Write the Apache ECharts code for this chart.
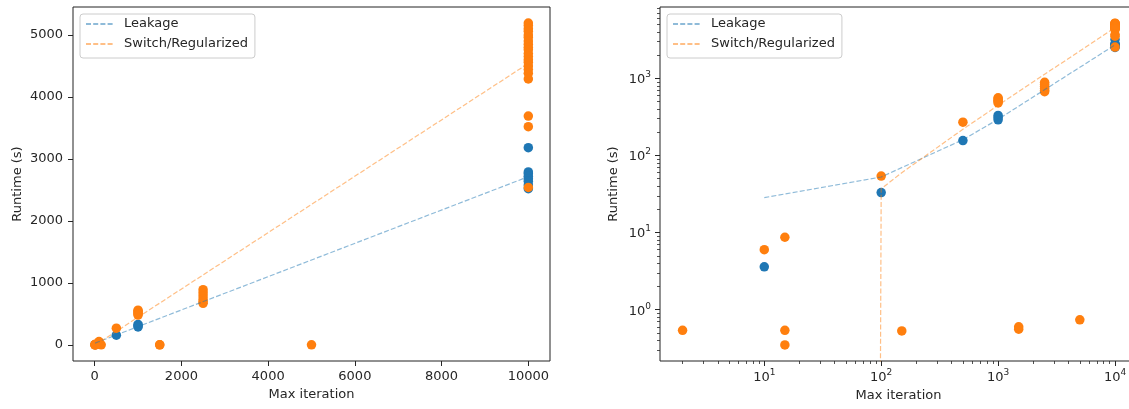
<!DOCTYPE html>
<html>
<head>
<meta charset="utf-8">
<script src="https://cdn.jsdelivr.net/npm/echarts@6/dist/echarts.min.js"></script>
<style>
  html, body { margin: 0; padding: 0; background: #ffffff; }
  #chart { width: 1129px; height: 409px; }
</style>
</head>
<body>
<div id="chart"></div>
<script>
// Runtime of each run against its iteration cap
const leakageIter = [10, 100, 500, 1000, 1000, 1000,
  10000, 10000, 10000, 10000, 10000, 10000, 10000, 10000];
const leakageRuntime = [3.6, 33, 156, 330, 310, 290,
  3180, 2790, 2760, 2720, 2680, 2640, 2580, 2520];

const switchIter = [2, 10, 15, 15, 15, 100, 150, 500,
  1000, 1000, 1000, 1000, 1000, 1500, 1500,
  2500, 2500, 2500, 2500, 2500, 2500, 5000,
  10000, 10000, 10000, 10000, 10000, 10000, 10000,
  10000, 10000, 10000, 10000, 10000, 10000, 10000,
  10000, 10000, 10000, 10000, 10000, 10000, 10000];
const switchRuntime = [0.54, 6.0, 8.7, 0.54, 0.35, 54, 0.53, 270,
  560, 540, 520, 500, 480, 0.56, 0.60,
  890, 840, 790, 740, 700, 670, 0.74,
  5190, 5150, 5100, 5060, 5000, 4960, 4900,
  4850, 4800, 4760, 4700, 4650, 4600, 4560,
  4500, 4440, 4380, 4290, 3690, 3520, 2540];

// Linear trend fits: [slope, intercept]
const leakageFit = [0.2687, 25.7];
const switchFit = [0.4548, -8.5];

// Axis ticks
const linearXTicks = [0, 2000, 4000, 6000, 8000, 10000];
const linearYTicks = [0, 1000, 2000, 3000, 4000, 5000];
const logXTicks = [10, 100, 1000, 10000];
const logYTicks = [1, 10, 100, 1000];

const FONT = 'DejaVu Sans';
const INK = '#262626';
const BLUE = '#1f77b4';
const ORANGE = '#ff7f0e';

// Axis limits (5% padding around the data, in linear or log space)
const LIN_X = [-500, 10500];
const LIN_Y = [-260, 5450];
const LOG_X = [Math.pow(10, 0.108), Math.pow(10, 4.188)];
const LOG_Y = [Math.pow(10, -0.665), Math.pow(10, 3.925)];

function pairs(xs, ys) { return xs.map((x, i) => [x, ys[i]]); }
function uniqueSorted(arr) { return Array.from(new Set(arr)).sort((a, b) => a - b); }
function fitLine(xs, fit) { return uniqueSorted(xs).map(x => [x, fit[0] * x + fit[1]]); }
// Nonpositive fit values are pushed to a tiny positive number on log axes,
// so that the segment drops off the bottom edge instead of breaking.
function clipPositive(points) { return points.map(([x, y]) => [x, y > 0 ? y : 1e-300]); }

function minorLogTicks(range) {
  const out = [];
  for (let e = -2; e <= 5; e++) {
    for (let m = 2; m <= 9; m++) {
      const v = m * Math.pow(10, e);
      if (v > range[0] && v < range[1]) out.push(v);
    }
  }
  return out;
}

function supLabel(v) {
  const e = Math.round(Math.log10(v));
  return '{b|10}{s|' + e + '}';
}
const supRich = {
  b: { fontFamily: FONT, fontSize: 13, color: INK, lineHeight: 16, verticalAlign: 'bottom' },
  s: { fontFamily: FONT, fontSize: 9, color: INK, lineHeight: 9, verticalAlign: 'top' }
};
function plainLabel(v) { return String(v); }

const tickStyle = { color: INK, width: 1 };
const labelBase = { fontFamily: FONT, fontSize: 13, color: INK };
const nameBase = { fontFamily: FONT, fontSize: 13, color: INK };
const noLine = { show: false, onZero: false };

const xAxes = [
  { // linear panel
    type: 'value', gridIndex: 0, position: 'bottom',
    min: LIN_X[0], max: LIN_X[1],
    name: 'Max iteration', nameLocation: 'middle', nameGap: 27, nameTextStyle: nameBase,
    axisLine: noLine, splitLine: { show: false },
    axisTick: { show: true, length: 5, lineStyle: tickStyle, customValues: linearXTicks },
    axisLabel: Object.assign({ margin: 9, customValues: linearXTicks, formatter: plainLabel }, labelBase)
  },
  { // log panel, decades
    type: 'log', logBase: 10, gridIndex: 1, position: 'bottom',
    min: LOG_X[0], max: LOG_X[1],
    name: 'Max iteration', nameLocation: 'middle', nameGap: 27, nameTextStyle: nameBase,
    axisLine: noLine, splitLine: { show: false },
    axisTick: { show: true, length: 5, lineStyle: tickStyle, customValues: logXTicks },
    axisLabel: { margin: 7, customValues: logXTicks, formatter: supLabel, rich: supRich }
  },
  { // log panel, minor ticks
    type: 'log', logBase: 10, gridIndex: 1, position: 'bottom',
    min: LOG_X[0], max: LOG_X[1],
    axisLine: noLine, splitLine: { show: false },
    axisTick: { show: true, length: 3, lineStyle: { color: INK, width: 0.8 }, customValues: minorLogTicks(LOG_X) },
    axisLabel: { show: false }
  }
];

const yAxes = [
  {
    type: 'value', gridIndex: 0, position: 'left',
    min: LIN_Y[0], max: LIN_Y[1],
    name: 'Runtime (s)', nameLocation: 'middle', nameGap: 49, nameRotate: 90, nameTextStyle: nameBase,
    axisLine: noLine, splitLine: { show: false },
    axisTick: { show: true, length: 5, lineStyle: tickStyle, customValues: linearYTicks },
    axisLabel: Object.assign({ margin: 10, customValues: linearYTicks, formatter: plainLabel }, labelBase)
  },
  {
    type: 'log', logBase: 10, gridIndex: 1, position: 'left',
    min: LOG_Y[0], max: LOG_Y[1],
    name: 'Runtime (s)', nameLocation: 'middle', nameGap: 40, nameRotate: 90, nameTextStyle: nameBase,
    axisLine: noLine, splitLine: { show: false },
    axisTick: { show: true, length: 5, lineStyle: tickStyle, customValues: logYTicks },
    axisLabel: { margin: 9, customValues: logYTicks, formatter: supLabel, rich: supRich }
  },
  {
    type: 'log', logBase: 10, gridIndex: 1, position: 'left',
    min: LOG_Y[0], max: LOG_Y[1],
    axisLine: noLine, splitLine: { show: false },
    axisTick: { show: true, length: 3, lineStyle: { color: INK, width: 0.8 }, customValues: minorLogTicks(LOG_Y) },
    axisLabel: { show: false }
  }
];

function scatter(name, data, color, xi, yi) {
  return {
    type: 'scatter', name: name, xAxisIndex: xi, yAxisIndex: yi,
    data: data, symbol: 'circle', symbolSize: 9.5,
    itemStyle: { color: color, opacity: 1 }, z: 2, silent: true
  };
}
function trend(name, data, color, xi, yi) {
  return {
    type: 'line', name: name, xAxisIndex: xi, yAxisIndex: yi,
    data: data, symbol: 'none', clip: true,
    lineStyle: { color: color, width: 1.2, type: [5, 2.2], opacity: 0.5 },
    itemStyle: { color: color, opacity: 0.5 },
    z: 3, silent: true
  };
}

const leakPts = pairs(leakageIter, leakageRuntime);
const switchPts = pairs(switchIter, switchRuntime);
const leakTrend = fitLine(leakageIter, leakageFit);
const switchTrend = fitLine(switchIter, switchFit);

const series = [
  scatter('Leakage runs', leakPts, BLUE, 0, 0),
  scatter('Switch/Regularized runs', switchPts, ORANGE, 0, 0),
  trend('Leakage', leakTrend, BLUE, 0, 0),
  trend('Switch/Regularized', switchTrend, ORANGE, 0, 0),
  scatter('Leakage runs', leakPts, BLUE, 1, 1),
  scatter('Switch/Regularized runs', switchPts, ORANGE, 1, 1),
  trend('Leakage', clipPositive(leakTrend), BLUE, 1, 1),
  trend('Switch/Regularized', clipPositive(switchTrend), ORANGE, 1, 1)
];

function legendAt(left) {
  return {
    orient: 'vertical', left: left, top: 14,
    data: ['Leakage', 'Switch/Regularized'],
    itemWidth: 27, itemHeight: 14, itemGap: 6,
    padding: [3, 7, 7, 5],
    backgroundColor: 'rgba(255,255,255,0.8)',
    borderColor: '#cccccc', borderWidth: 1, borderRadius: 3,
    selectedMode: false,
    itemStyle: { opacity: 0 },
    textStyle: { fontFamily: FONT, fontSize: 13, color: INK, lineHeight: 14, padding: [0, 0, 0, 6] }
  };
}

const gridBase = { top: 7, width: 477, height: 354, show: true, borderColor: '#222', borderWidth: 1,
  backgroundColor: 'transparent', outerBoundsMode: 'none', containLabel: false };

const option = {
  animation: false,
  backgroundColor: '#ffffff',
  grid: [
    Object.assign({ left: 73 }, gridBase),
    Object.assign({ left: 660 }, gridBase)
  ],
  legend: [legendAt(80), legendAt(667)],
  xAxis: xAxes,
  yAxis: yAxes,
  series: series
};

const chart = echarts.init(document.getElementById('chart'));
chart.setOption(option);
</script>
</body>
</html>
